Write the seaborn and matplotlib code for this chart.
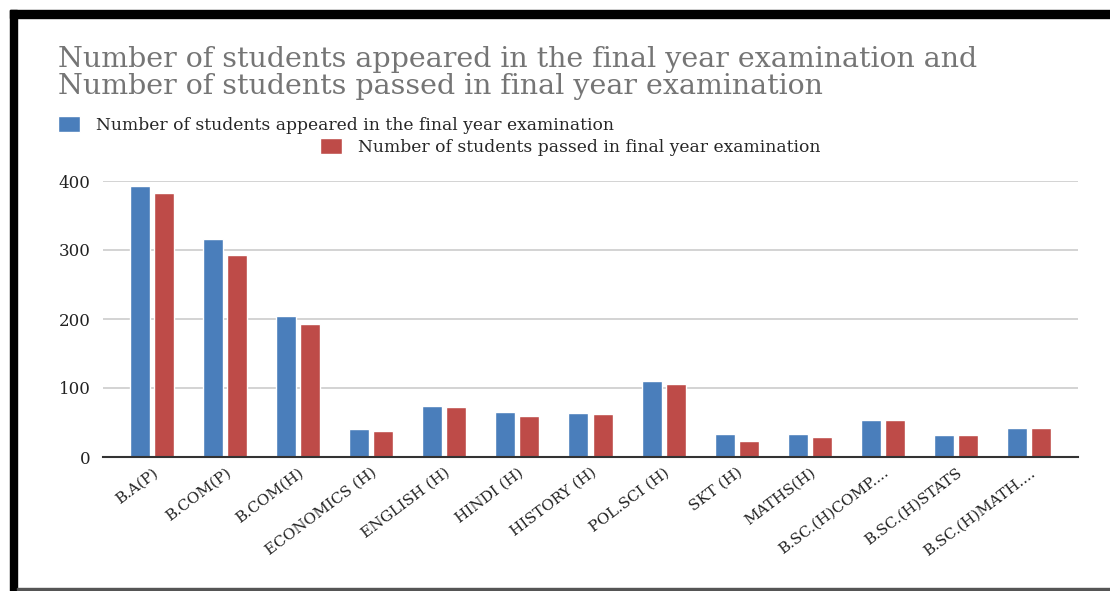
import pandas as pd
import seaborn as sns
import matplotlib
matplotlib.use("Agg")
import matplotlib.pyplot as plt
from matplotlib.patches import Rectangle

courses = ["B.A(P)", "B.COM(P)", "B.COM(H)", "ECONOMICS (H)", "ENGLISH (H)",
           "HINDI (H)", "HISTORY (H)", "POL.SCI (H)", "SKT (H)", "MATHS(H)",
           "B.SC.(H)COMP....", "B.SC.(H)STATS", "B.SC.(H)MATH...."]
appeared = [393, 316, 204, 40, 74, 65, 64, 110, 34, 34, 53, 32, 42]
passed = [383, 293, 193, 38, 72, 59, 62, 106, 23, 29, 53, 32, 42]

s_app = "Number of students appeared in the final year examination"
s_pass = "Number of students passed in final year examination"
title = ("Number of students appeared in the final year examination and\n"
         "Number of students passed in final year examination")

df = pd.DataFrame({
    "course": courses * 2,
    "count": appeared + passed,
    "series": [s_app] * len(courses) + [s_pass] * len(courses),
})

sns.set_theme(style="white")
plt.rcParams["font.family"] = ["DejaVu Serif"]

W, H = 1110, 591
fig = plt.figure(figsize=(W / 100, H / 100), dpi=100)
ax = fig.add_axes([103 / W, 1 - 457 / H, (1078 - 103) / W, (457 - 181) / H])

sns.barplot(data=df, x="course", y="count", hue="series", ax=ax,
            palette=["#4a7ebb", "#be4b48"], width=0.66, gap=0.17,
            saturation=1, errorbar=None)

ax.set_ylim(0, 400)
ax.set_xlim(-0.67, len(courses) - 1 + 0.67)
ax.set_yticks([0, 100, 200, 300, 400])
ax.yaxis.grid(True, color="#cccccc", linewidth=1.2)
ax.set_axisbelow(True)
for side in ["top", "right", "left"]:
    ax.spines[side].set_visible(False)
ax.spines["bottom"].set_color("#333333")
ax.spines["bottom"].set_linewidth(1.5)
ax.set_xlabel("")
ax.set_ylabel("")
ax.tick_params(axis="y", length=0, pad=9, labelsize=12, labelcolor="#222222")
ax.tick_params(axis="x", length=0, pad=6, labelsize=11, labelcolor="#222222")
plt.setp(ax.get_xticklabels(), rotation=37, ha="right", rotation_mode="anchor")

handles, labels = ax.get_legend_handles_labels()
ax.get_legend().remove()
leg_kw = dict(loc="center left", frameon=False, fontsize=12.3,
              handlelength=1.3, handleheight=1.1, handletextpad=0.9,
              borderpad=0, borderaxespad=0)
fig.legend([handles[0]], [labels[0]], bbox_to_anchor=(58 / W, 1 - 125 / H), **leg_kw)
fig.legend([handles[1]], [labels[1]], bbox_to_anchor=(320 / W, 1 - 147 / H), **leg_kw)

fig.text(58 / W, 1 - 46 / H, title, fontsize=20.5, color="#757575",
         va="top", ha="left", linespacing=1.02)

# screenshot frame
fig.patches.append(Rectangle((10 / W, 1 - 18 / H), 1 - 10 / W, 8 / H,
                             transform=fig.transFigure, color="black"))
fig.patches.append(Rectangle((10 / W, 0), 7 / W, 1 - 10 / H,
                             transform=fig.transFigure, color="black"))
fig.patches.append(Rectangle((17 / W, 1 / H), 1, 2 / H,
                             transform=fig.transFigure, color="#555555"))

fig.savefig("out.png", dpi=100)
